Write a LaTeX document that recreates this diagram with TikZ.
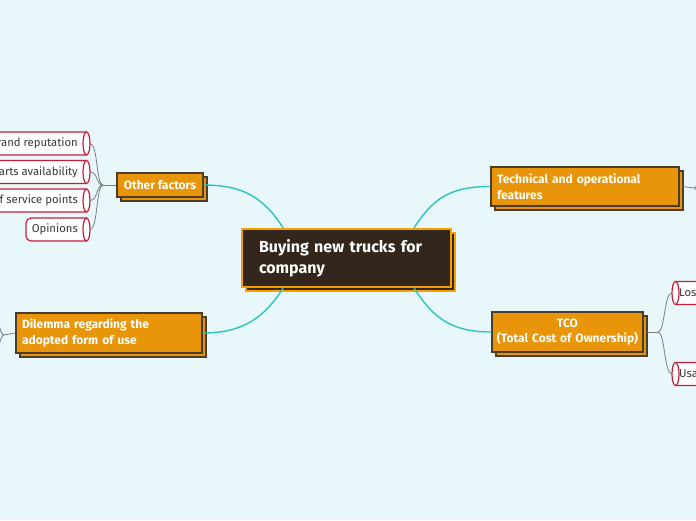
\documentclass[tikz,border=0pt]{standalone}
\usepackage{fontspec}
\setmainfont{Fira Sans}
\usetikzlibrary{shadows,calc}
\definecolor{bgc}{HTML}{E8F8FA}
\definecolor{orng}{HTML}{E8950A}
\definecolor{dkb}{HTML}{4B3D2B}
\definecolor{cfill}{HTML}{33271B}
\definecolor{cbord}{HTML}{F5A000}
\definecolor{teal}{HTML}{2DC3C3}
\definecolor{conn}{HTML}{7D7D7D}
\definecolor{leafred}{HTML}{C41E3A}
\definecolor{leaftxt}{HTML}{383838}
\tikzset{
  mainbox/.style={draw=cbord, line width=2.2pt, fill=cfill, text=white, inner sep=0pt,
    copy shadow={shadow xshift=4pt, shadow yshift=-4pt},
    font=\fontsize{16}{21}\selectfont\bfseries},
  subbox/.style={draw=dkb, line width=1.3pt, fill=orng, text=white, inner sep=0pt,
    copy shadow={shadow xshift=4pt, shadow yshift=-4pt},
    font=\fontsize{12}{15.5}\selectfont\bfseries},
  tealline/.style={draw=teal, line width=1.4pt},
  grayline/.style={draw=conn, line width=0.8pt},
  leafline/.style={draw=leafred, line width=1.2pt, fill=white},
  leaftext/.style={text=leaftxt, inner sep=0pt, font=\fontsize{11.3}{13}\selectfont},
}
% left-side leaf: name, left x, right x, center y, text
\newcommand\leafL[5]{%
  \draw[leafline, rounded corners=5pt] (#3-3.5,#4-11.5) -- (#2,#4-11.5) -- (#2,#4+11.5) -- (#3-3.5,#4+11.5);
  \draw[leafline] (#3-3.5,#4) ellipse [x radius=3.5pt, y radius=11.5pt];
  \node[leaftext, anchor=east] (#1t) at (#3-12,#4) {#5};
  \coordinate (#1) at (#3,#4);
}
% right-side leaf: name, left x, right x, center y, text
\newcommand\leafR[5]{%
  \draw[leafline, rounded corners=5pt] (#2+3.5,#4-11.5) -- (#3,#4-11.5) -- (#3,#4+11.5) -- (#2+3.5,#4+11.5);
  \draw[leafline] (#2+3.5,#4) ellipse [x radius=3.5pt, y radius=11.5pt];
  \node[leaftext, anchor=west] (#1t) at (#2+7,#4) {#5};
  \coordinate (#1) at (#2,#4);
}
\begin{document}
\begin{tikzpicture}[x=1pt,y=-1pt]
\useasboundingbox (0,0) rectangle (696,520);
\clip (0,0) rectangle (696,520);
\fill[bgc] (0,0) rectangle (696,520);

% main nodes
\node[mainbox, minimum width=209pt, minimum height=58pt, text width=175pt, align=left] (c) at (346.5,258) {Buying new trucks for\\company};
\node[subbox, minimum width=86pt, minimum height=24pt, align=center] (of) at (160,185) {Other factors};
\node[subbox, minimum width=188pt, minimum height=39pt, text width=176pt, align=left] (tech) at (585,186.5) {Technical and operational\\features};
\node[subbox, minimum width=186pt, minimum height=40pt, text width=174pt, align=left] (dil) at (109,333) {Dilemma regarding the\\adopted form of use};
\node[subbox, minimum width=151pt, minimum height=40pt, text width=151pt, align=center] (tco) at (567.5,332) {TCO\\(Total Cost of Ownership)};

% main connectors
\coordinate (ctl) at ($(c.north west)!0.2!(c.north east)$);
\coordinate (ctr) at ($(c.north west)!0.82!(c.north east)$);
\coordinate (cbl) at ($(c.south west)!0.2!(c.south east)$);
\coordinate (cbr) at ($(c.south west)!0.82!(c.south east)$);
\draw[tealline] (of.east) .. controls +(42,0) and +(-18,-28) .. (ctl);
\draw[tealline] (ctr) .. controls +(18,-28) and +(-42,0) .. (tech.west);
\draw[tealline] (cbl) .. controls +(-18,28) and +(42,0) .. (dil.east);
\draw[tealline] (cbr) .. controls +(18,28) and +(-42,0) .. (tco.west);

% leaves of Other factors
\leafL{l1}{-30}{90}{143.5}{rand reputation}
\leafL{l2}{-30}{90}{172}{arts availability}
\leafL{l3}{-30}{90}{200.5}{f service points}
\leafL{l4}{26}{90}{229.5}{Opinions}
\coordinate (ofj) at (103,185);
\draw[grayline] (of.west) -- (ofj);
\foreach \l in {l1,l2,l3,l4}{
  \draw[grayline] (ofj) .. controls +(-7,0) and +(8,0) .. (\l);
}

% leaves of TCO
\leafR{r1}{672}{730}{293}{Los}
\leafR{r2}{672}{730}{374}{Usa}
\coordinate (tcoj) at (658,332);
\draw[grayline] ([xshift=3pt]tco.east) -- (tcoj);
\foreach \l in {r1,r2}{
  \draw[grayline] (tcoj) .. controls +(7,0) and +(-8,0) .. (\l);
}

% off-page branches
\coordinate (techj) at (694,188);
\coordinate (techu) at (712,150);
\coordinate (techd) at (712,226);
\draw[grayline] ([xshift=3pt]tech.east) -- (techj);
\draw[grayline] (techj) .. controls +(6,0) and +(-6,0) .. (techu);
\draw[grayline] (techj) .. controls +(6,0) and +(-6,0) .. (techd);

\coordinate (dilj) at (4,335);
\coordinate (dilu) at (-12,290);
\coordinate (dild) at (-12,380);
\draw[grayline] (dil.west) -- (dilj);
\draw[grayline] (dilj) .. controls +(-6,0) and +(6,0) .. (dilu);
\draw[grayline] (dilj) .. controls +(-6,0) and +(6,0) .. (dild);
\end{tikzpicture}
\end{document}
